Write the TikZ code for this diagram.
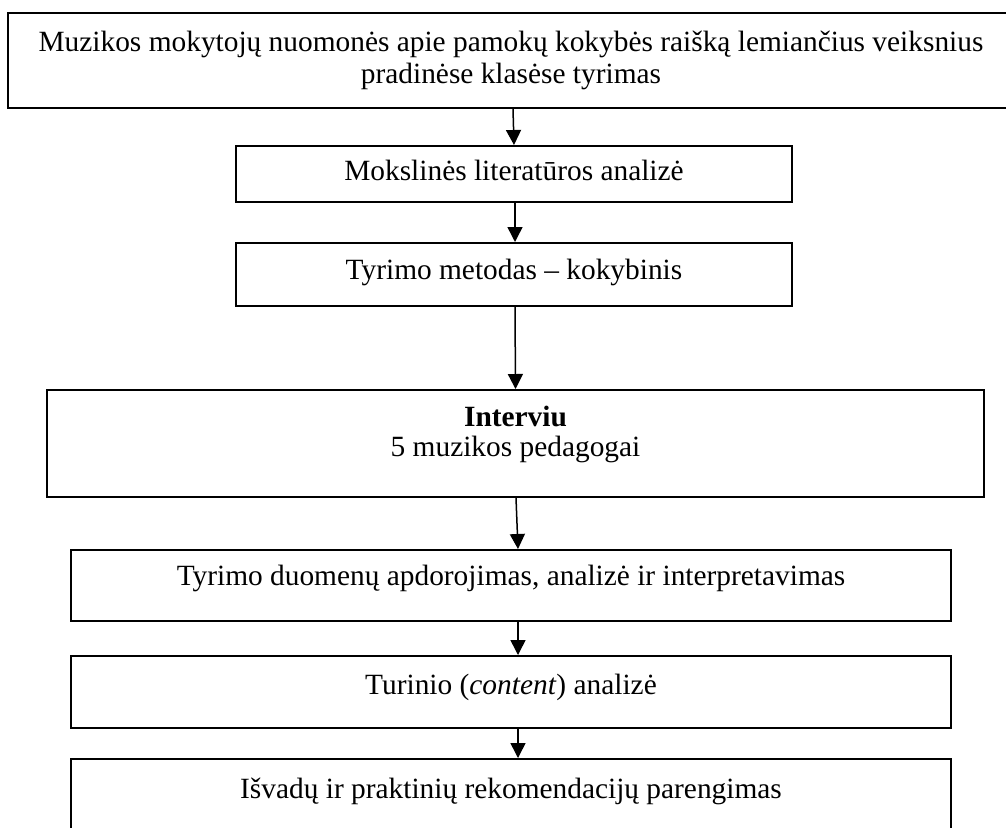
\documentclass[tikz,border=0pt]{standalone}
\usepackage{fontspec}
\setmainfont{Liberation Serif}
\usetikzlibrary{arrows.meta}

\tikzset{
	stage/.style = {draw, line width=0.8pt, inner sep=0pt},
	caption/.style = {inner sep=0pt, align=center, font=\fontsize{11.75pt}{12.8pt}\selectfont},
	flow/.style = {line width=0.6pt, -{Triangle[length=6pt,width=6pt]}}
}

\begin{document}
\begin{tikzpicture}[x=0.4pt, y=-0.4pt]
	\useasboundingbox (0,0) rectangle (1006,827);
	% boxes
		\node[stage, minimum width=402.4pt, minimum height=38pt] (research) at (511,60.5) {};
		\node[stage, minimum width=222.4pt, minimum height=22.4pt] (literature) at (514,174) {};
		\node[stage, minimum width=222.4pt, minimum height=25.2pt] (method) at (514,274.5) {};
		\node[stage, minimum width=374.8pt, minimum height=42.8pt] (interview) at (515.5,443.5) {};
		\node[stage, minimum width=352pt, minimum height=28.4pt] (processing) at (511,585.5) {};
		\node[stage, minimum width=352pt, minimum height=28.8pt] (content) at (511,692) {};
		\node[stage, minimum width=352pt, minimum height=28.8pt] (conclusions) at (511,795) {};
	% texts
		\node[caption, anchor=north] (researchtxt) at (511,31) {Muzikos mokytojų nuomonės apie pamokų kokybės raišką lemiančius veiksnius\\pradinėse klasėse tyrimas};
		\node[caption, anchor=base] (literaturetxt) at (514,180) {Mokslinės literatūros analizė};
		\node[caption, anchor=base] (methodtxt) at (514,279) {Tyrimo metodas -- kokybinis};
		\node[caption, anchor=north] (interviewtxt) at (515.5,406) {\textbf{Interviu}\\[-1pt]5 muzikos pedagogai};
		\node[caption, anchor=base] (processingtxt) at (511,585) {Tyrimo duomenų apdorojimas, analizė ir interpretavimas};
		\node[caption, anchor=base] (contenttxt) at (511,694) {Turinio (\textit{content}) analizė};
		\node[caption, anchor=base] (conclusionstxt) at (511,798) {Išvadų ir praktinių rekomendacijų parengimas};
	% arrows
		\draw[flow] ([xshift=0.8pt]research.south) -- (literature.north);
		\draw[flow] ([xshift=0.4pt]literature.south) -- ([xshift=0.4pt]method.north);
		\draw[flow] ([xshift=0.4pt]method.south) -- (interview.north);
		\draw[flow] ([xshift=0.2pt]interview.south) -- ([xshift=2.8pt]processing.north);
		\draw[flow] ([xshift=2.8pt]processing.south) -- ([xshift=2.8pt]content.north);
		\draw[flow] ([xshift=2.8pt]content.south) -- ([xshift=2.8pt]conclusions.north);
\end{tikzpicture}
\end{document}
